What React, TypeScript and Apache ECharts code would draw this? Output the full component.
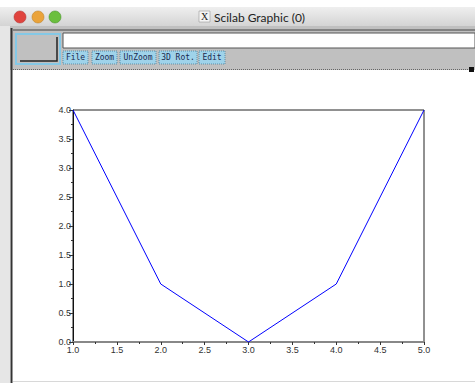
import React, { useEffect, useRef } from "react";
import * as echarts from "echarts";

const xValues = [1, 2, 3, 4, 5];
const yValues = [4, 1, 0, 1, 4];
const menuButtons = ["File", "Zoom", "UnZoom", "3D Rot.", "Edit"];
const windowTitle = "Scilab Graphic (0)";

export default function App() {
  const ref = useRef<HTMLDivElement>(null);

  useEffect(() => {
    document.body.style.margin = "0";
    const chart = echarts.init(ref.current!, null, { renderer: "svg" });

    const btnX = [63, 92, 120, 159, 199];
    const btnW = [25, 25, 36, 38, 26];
    const buttons: any[] = [];
    menuButtons.forEach((label, i) => {
      buttons.push({
        type: "rect",
        shape: { x: btnX[i], y: 51, width: btnW[i], height: 13 },
        style: { fill: "#9fd3ea", stroke: "#5a8fa8", lineWidth: 1, lineDash: [1, 1] },
      });
      buttons.push({
        type: "text",
        x: btnX[i] + btnW[i] / 2,
        y: 57.5,
        style: {
          text: label,
          fill: "#1a2a50",
          font: "8px 'DejaVu Sans Mono'",
          align: "center",
          verticalAlign: "middle",
        },
      });
    });

    const graphic: any[] = [
      {
        type: "rect",
        shape: { x: 0, y: 7, width: 475, height: 19 },
        style: {
          fill: new echarts.graphic.LinearGradient(0, 0, 0, 1, [
            { offset: 0, color: "#efefef" },
            { offset: 1, color: "#d4d4d4" },
          ]),
        },
      },
      { type: "rect", shape: { x: 0, y: 26, width: 475, height: 44 }, style: { fill: "#c0c0c0" } },
      { type: "rect", shape: { x: 0, y: 26, width: 10, height: 357 }, style: { fill: "#e6e6e6" } },
      { type: "line", shape: { x1: 11.5, y1: 28, x2: 11.5, y2: 383 }, style: { stroke: "#333", lineWidth: 2 } },
      { type: "line", shape: { x1: 13, y1: 30, x2: 475, y2: 30 }, style: { stroke: "#444", lineWidth: 1 } },
      { type: "circle", shape: { cx: 20, cy: 17, r: 6 }, style: { fill: "#e0443e", stroke: "#a33", lineWidth: 0.5 } },
      { type: "circle", shape: { cx: 38, cy: 17, r: 6 }, style: { fill: "#eaa33a", stroke: "#b77a20", lineWidth: 0.5 } },
      { type: "circle", shape: { cx: 55, cy: 17, r: 6 }, style: { fill: "#6bbf3e", stroke: "#3f8a22", lineWidth: 0.5 } },
      { type: "rect", shape: { x: 199, y: 11, width: 11, height: 11 }, style: { fill: "#f4f4f4", stroke: "#888", lineWidth: 0.5 } },
      {
        type: "text",
        x: 204.5,
        y: 16.5,
        style: { text: "X", fill: "#222", font: "10px 'Liberation Serif'", align: "center", verticalAlign: "middle" },
      },
      {
        type: "text",
        x: 214,
        y: 17,
        style: { text: windowTitle, fill: "#222", font: "12px 'Lato'", verticalAlign: "middle" },
      },
      {
        type: "rect",
        shape: { x: 16, y: 34, width: 44, height: 30 },
        style: { fill: "#c0c0c0", stroke: "#84c8e6", lineWidth: 2 },
      },
      { type: "polyline", shape: { points: [[20, 61], [57, 61], [57, 37]] }, style: { stroke: "#222", lineWidth: 1.5, fill: null } },
      { type: "rect", shape: { x: 63, y: 33, width: 412, height: 15 }, style: { fill: "#ffffff", stroke: "#555", lineWidth: 1 } },
      ...buttons,
      { type: "line", shape: { x1: 13, y1: 69.5, x2: 470, y2: 69.5 }, style: { stroke: "#666", lineWidth: 1, lineDash: [1, 1] } },
      { type: "rect", shape: { x: 469, y: 67, width: 5, height: 5 }, style: { fill: "#111" } },
      { type: "line", shape: { x1: 13, y1: 381.5, x2: 475, y2: 381.5 }, style: { stroke: "#d8d8d8", lineWidth: 1 } },
    ];

    const labelStyle = { color: "#333", fontSize: 9, fontFamily: "Liberation Sans" };

    chart.setOption({
      animation: false,
      backgroundColor: "#ffffff",
      graphic,
      grid: {
        left: 73,
        top: 110,
        width: 351,
        height: 232,
        show: true,
        borderColor: "#222",
        borderWidth: 1,
        backgroundColor: "transparent",
      },
      xAxis: {
        type: "value",
        min: 1,
        max: 5,
        interval: 0.5,
        splitLine: { show: false },
        axisLine: { show: true, lineStyle: { color: "#888", width: 2 } },
        axisTick: { show: true, length: 3, lineStyle: { color: "#333" } },
        minorTick: { show: true, splitNumber: 2, length: 2, lineStyle: { color: "#333" } },
        axisLabel: { ...labelStyle, margin: 3, formatter: (v: number) => v.toFixed(1) },
      },
      yAxis: {
        type: "value",
        min: 0,
        max: 4,
        interval: 0.5,
        splitLine: { show: false },
        axisLine: { show: true, lineStyle: { color: "#111", width: 1 } },
        axisTick: { show: true, length: 4, lineStyle: { color: "#333" } },
        minorTick: { show: true, splitNumber: 2, length: 2, lineStyle: { color: "#333" } },
        axisLabel: { ...labelStyle, margin: 2, formatter: (v: number) => v.toFixed(1) },
      },
      series: [
        {
          type: "line",
          data: xValues.map((x, i) => [x, yValues[i]]),
          symbol: "none",
          lineStyle: { color: "#0000ff", width: 1 },
        },
      ],
    });

    return () => chart.dispose();
  }, []);

  return (
    <div
      ref={ref}
      style={{ position: "absolute", left: 0, top: 0, width: 475, height: 383 }}
    />
  );
}
